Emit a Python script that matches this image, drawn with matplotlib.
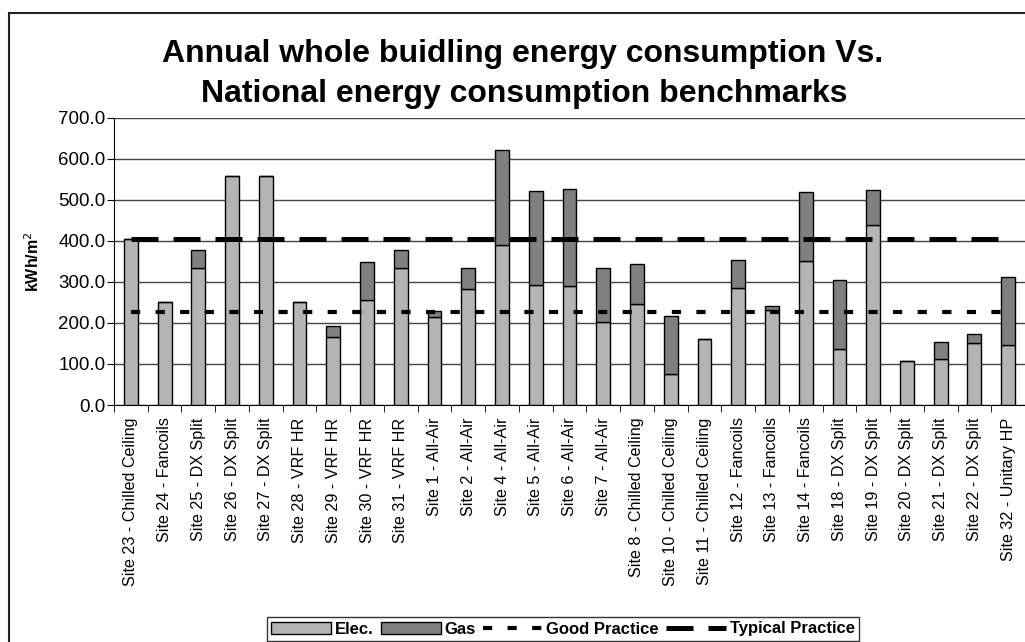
import matplotlib.pyplot as plt
from matplotlib.patches import Rectangle
from matplotlib.lines import Line2D
from matplotlib.patches import Patch
import numpy as np

plt.rcParams['font.family'] = ['Liberation Sans', 'DejaVu Sans']

# data
sites = ["Site 23 - Chilled Ceiling", "Site 24 - Fancoils", "Site 25 - DX Split",
         "Site 26 - DX Split", "Site 27 - DX Split", "Site 28 - VRF HR",
         "Site 29 - VRF HR", "Site 30 - VRF HR", "Site 31 - VRF HR",
         "Site 1 - All-Air", "Site 2 - All-Air", "Site 4 - All-Air",
         "Site 5 - All-Air", "Site 6 - All-Air", "Site 7 - All-Air",
         "Site 8 - Chilled Ceiling", "Site 10 - Chilled Ceiling",
         "Site 11 - Chilled Ceiling", "Site 12 - Fancoils", "Site 13 - Fancoils",
         "Site 14 - Fancoils", "Site 18 - DX Split", "Site 19 - DX Split",
         "Site 20 - DX Split", "Site 21 - DX Split", "Site 22 - DX Split",
         "Site 32 - Unitary HP"]
elec = [405, 251, 334, 557, 557, 251, 166, 257, 334, 215, 283, 390, 292, 289,
        202, 247, 76, 160, 285, 232, 350, 137, 439, 108, 111, 150, 147]
total = [405, 251, 377, 557, 557, 251, 193, 348, 377, 228, 335, 622, 522, 526,
         335, 344, 218, 160, 354, 241, 519, 305, 523, 108, 153, 173, 311]
gas = [t - e for t, e in zip(total, elec)]
good_practice = 227
typical_practice = 405

fig = plt.figure(figsize=(10.25, 6.42), dpi=100)
W, H = 1025, 642

# outer chart border (cropped on the right and bottom)
fig.patches.append(Rectangle((9 / W, -0.1), 1.2, (H - 13) / H + 0.1,
                             transform=fig.transFigure, fill=False,
                             edgecolor='#222222', linewidth=1.5))

ax = fig.add_axes([114 / W, (H - 405) / H, 911 / W, (405 - 117.7) / H])
x = np.arange(len(sites))

ax.bar(x, elec, width=0.41, color='#b4b4b4', edgecolor='black', linewidth=1, zorder=3)
ax.bar(x, gas, width=0.41, bottom=elec, color='#808080', edgecolor='black',
       linewidth=1, zorder=3)

ax.plot([x[0], x[-1]], [good_practice] * 2, color='black', lw=3,
        dashes=(2.2, 3.7), zorder=4)
ax.plot([x[0], x[-1]], [typical_practice] * 2, color='black', lw=3.6,
        dashes=(5.4, 3.0), zorder=4)

ax.set_xlim(-0.5, len(sites) - 0.5)
ax.set_ylim(0, 700)
ax.set_yticks(np.arange(0, 701, 100))
ax.set_yticklabels([f"{v:.1f}" for v in range(0, 701, 100)], fontsize=13.5)
ax.yaxis.grid(True, color='#444444', linewidth=1, zorder=0)
ax.set_axisbelow(True)

ax.set_xticks(x)
ax.set_xticklabels(sites, rotation=90, fontsize=11.6)
ax.set_xticks(np.arange(-0.5, len(sites)), minor=True)
ax.tick_params(axis='x', which='major', length=0, pad=9)
ax.tick_params(axis='x', which='minor', length=5, direction='out')
ax.tick_params(axis='y', length=5, direction='out', pad=1)

for s in ['top', 'right']:
    ax.spines[s].set_visible(False)
ax.spines['left'].set_color('black')
ax.spines['bottom'].set_color('black')

ax.set_ylabel("kWh/m$^2$", fontsize=11.5, fontweight='bold', labelpad=12)

fig.text(523 / W, 1 - 54 / H, "Annual whole buidling energy consumption Vs.",
         ha='center', va='center', fontsize=23, fontweight='bold')
fig.text(524 / W, 1 - 94 / H, "National energy consumption benchmarks",
         ha='center', va='center', fontsize=23, fontweight='bold')

handles = [Patch(facecolor='#b4b4b4', edgecolor='black', label='Elec.'),
           Patch(facecolor='#808080', edgecolor='black', label='Gas'),
           Line2D([], [], color='black', lw=3, dashes=(2.2, 3.7), label='Good Practice'),
           Line2D([], [], color='black', lw=3.6, dashes=(5.4, 3.0), label='Typical Practice')]
leg = fig.legend(handles=handles, loc='center', bbox_to_anchor=(563 / W, 1 - 629 / H),
                 ncol=4, frameon=True, fancybox=False, edgecolor='black',
                 handlelength=3.6, handletextpad=0.2, columnspacing=0.45,
                 borderpad=0.25, prop={'weight': 'bold', 'size': 12})
leg.get_frame().set_linewidth(1)

fig.savefig("out.png", dpi=100)
